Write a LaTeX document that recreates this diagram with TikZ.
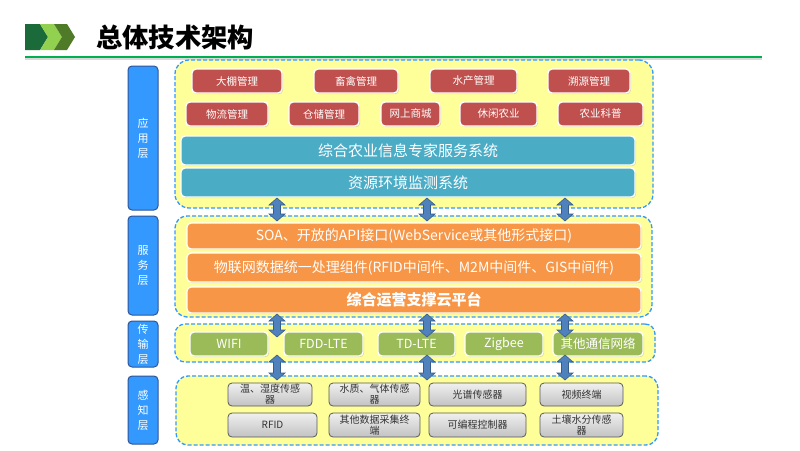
\documentclass[tikz,border=0pt]{standalone}
\usepackage{fontspec}
\setmainfont{Noto Sans CJK SC}
\usetikzlibrary{shadows}
\definecolor{redbox}{HTML}{C0504D}
\definecolor{tealbox}{HTML}{4BACC6}
\definecolor{orangebox}{HTML}{F79646}
\definecolor{greenbox}{HTML}{9BBB59}
\definecolor{areafill}{HTML}{FFFF99}
\definecolor{areadash}{HTML}{3399FF}
\definecolor{labelfill}{HTML}{3399FF}
\definecolor{labeldraw}{HTML}{2F5597}
\definecolor{arrowfill}{HTML}{4F81BD}
\definecolor{arrowdraw}{HTML}{385D8A}
\definecolor{chevA}{HTML}{1B6B3A}
\definecolor{chevB}{HTML}{92D050}
\definecolor{chevC}{HTML}{4F7A28}
\definecolor{rulegreen}{HTML}{00B050}
\tikzset{
  colbox/.style={rounded corners=4pt, draw=white, line width=1.4pt, text=white, inner sep=0pt,
    drop shadow={opacity=0.3, shadow xshift=1pt, shadow yshift=-1.2pt}},
  redsty/.style={colbox, fill=redbox, font=\fontsize{10.5}{12}\selectfont},
  tealsty/.style={colbox, fill=tealbox, font=\fontsize{15}{17}\selectfont},
  orangesty/.style={colbox, fill=orangebox, font=\fontsize{14}{16}\selectfont},
  greensty/.style={colbox, fill=greenbox, font=\fontsize{12.5}{14}\selectfont},
  graysty/.style={rounded corners=4pt, draw=black!65, line width=0.8pt, top color=black!6, bottom color=black!24,
    text=black!80, inner sep=0pt, align=center, font=\fontsize{10}{11}\selectfont},
  areasty/.style={fill=areafill, draw=areadash, line width=1.3pt, dash pattern=on 4pt off 2pt, inner sep=0pt},
  labelsty/.style={rounded corners=4pt, fill=labelfill, draw=labeldraw, line width=1pt, text=white,
    inner sep=0pt, align=center, font=\fontsize{11}{15}\selectfont},
  arrowsty/.style={fill=arrowfill, draw=arrowdraw, line width=0.6pt, line join=miter},
}
% name, style, x1, y1, x2, y2, text
\newcommand\bx[7]{\node[#2, minimum width={#5pt-#3pt}, minimum height={#6pt-#4pt}] (#1) at ({(#3+#5)/2},{(#4+#6)/2}) {#7};}
% double block arrow: x, ytop, ybottom
\newcommand\dbarrow[3]{\draw[arrowsty] (#1-3.5,#2+7) -- (#1-8,#2+7) -- (#1,#2) -- (#1+8,#2+7) -- (#1+3.5,#2+7) -- (#1+3.5,#3-7) -- (#1+8,#3-7) -- (#1,#3) -- (#1-8,#3-7) -- (#1-3.5,#3-7) -- cycle;}
\begin{document}
\begin{tikzpicture}[x=1pt, y=-1pt]
\useasboundingbox (0,0) rectangle (800,450);
\fill[white] (0,0) rectangle (800,450);
% header
\fill[chevA] (25,24) -- (40,24) -- (48,37) -- (40,50) -- (25,50) -- cycle;
\fill[chevB] (40,24) -- (54,24) -- (62,37) -- (54,50) -- (40,50) -- (48,37) -- cycle;
\fill[chevC] (54,24) -- (67,24) -- (75,37) -- (67,50) -- (54,50) -- (62,37) -- cycle;
\node[anchor=west, inner sep=0pt, font=\fontsize{26.3}{29}\selectfont\bfseries] (title) at (96,37) {总体技术架构};
\draw[black!15, line width=1.5pt] (25,59) -- (762,59);
\draw[rulegreen, line width=2.2pt] (25,57) -- (762,57);
% layer areas
\bx{appArea}{areasty, rounded corners=14pt}{175}{60}{653}{208}{}
\bx{srvArea}{areasty, rounded corners=12pt}{175}{216}{652}{317}{}
\bx{trnArea}{areasty, rounded corners=10pt}{175}{324}{655}{362}{}
\bx{senArea}{areasty, rounded corners=12pt}{176}{376}{658}{445}{}
% layer labels
\bx{appLbl}{labelsty}{128}{66}{158}{210}{应\\用\\层}
\bx{srvLbl}{labelsty}{128}{216}{158}{315}{服\\务\\层}
\bx{trnLbl}{labelsty}{128}{321}{158}{367}{传\\输\\层}
\bx{senLbl}{labelsty}{128}{376}{158}{444}{感\\知\\层}
% application layer
\bx{a1}{redsty}{192}{69}{282}{93}{大棚管理}
\bx{a2}{redsty}{314}{69}{398}{93}{畜禽管理}
\bx{a3}{redsty}{430}{69}{517}{93}{水产管理}
\bx{a4}{redsty}{548}{69}{630}{93}{溯源管理}
\bx{a5}{redsty}{186}{102}{268}{126}{物流管理}
\bx{a6}{redsty}{289}{102}{359}{126}{仓储管理}
\bx{a7}{redsty}{381}{102}{440}{126}{网上商城}
\bx{a8}{redsty}{460}{102}{537}{126}{休闲农业}
\bx{a9}{redsty}{558}{102}{643}{126}{农业科普}
\bx{t1}{tealsty}{181}{136}{635}{165}{综合农业信息专家服务系统}
\bx{t2}{tealsty}{181}{168}{635}{197}{资源环境监测系统}
% service layer
\bx{s1}{orangesty}{187}{223}{641}{249}{SOA、开放的API接口(WebService或其他形式接口)}
\bx{s2}{orangesty}{187}{253}{641}{282}{物联网数据统一处理组件(RFID中间件、M2M中间件、GIS中间件)}
\bx{s3}{orangesty, font=\fontsize{15}{17}\selectfont\bfseries}{187}{287}{641}{313}{综合运营支撑云平台}
% transport layer
\bx{g1}{greensty}{190}{332}{268}{356}{WIFI}
\bx{g2}{greensty}{284}{332}{363}{356}{FDD-LTE}
\bx{g3}{greensty}{378}{332}{455}{356}{TD-LTE}
\bx{g4}{greensty}{465}{332}{543}{356}{Zigbee}
\bx{g5}{greensty}{553}{332}{643}{356}{其他通信网络}
% sensing layer
\bx{p1}{graysty}{228}{383}{312}{406}{温、湿度传感\\器}
\bx{p2}{graysty}{329}{383}{420}{406}{水质、气体传感\\器}
\bx{p3}{graysty}{429}{383}{526}{406}{光谱传感器}
\bx{p4}{graysty}{540}{383}{623}{406}{视频终端}
\bx{p5}{graysty}{228}{413}{317}{437}{RFID}
\bx{p6}{graysty}{329}{413}{420}{437}{其他数据采集终\\端}
\bx{p7}{graysty}{429}{413}{526}{437}{可编程控制器}
\bx{p8}{graysty}{540}{413}{623}{437}{土壤水分传感\\器}
% arrows between layers
\dbarrow{277}{198}{221}
\dbarrow{427}{198}{221}
\dbarrow{565}{198}{221}
\dbarrow{277}{314}{337}
\dbarrow{427}{314}{337}
\dbarrow{565}{314}{337}
\dbarrow{277}{355}{380}
\dbarrow{427}{355}{380}
\dbarrow{565}{355}{380}
\end{tikzpicture}
\end{document}
